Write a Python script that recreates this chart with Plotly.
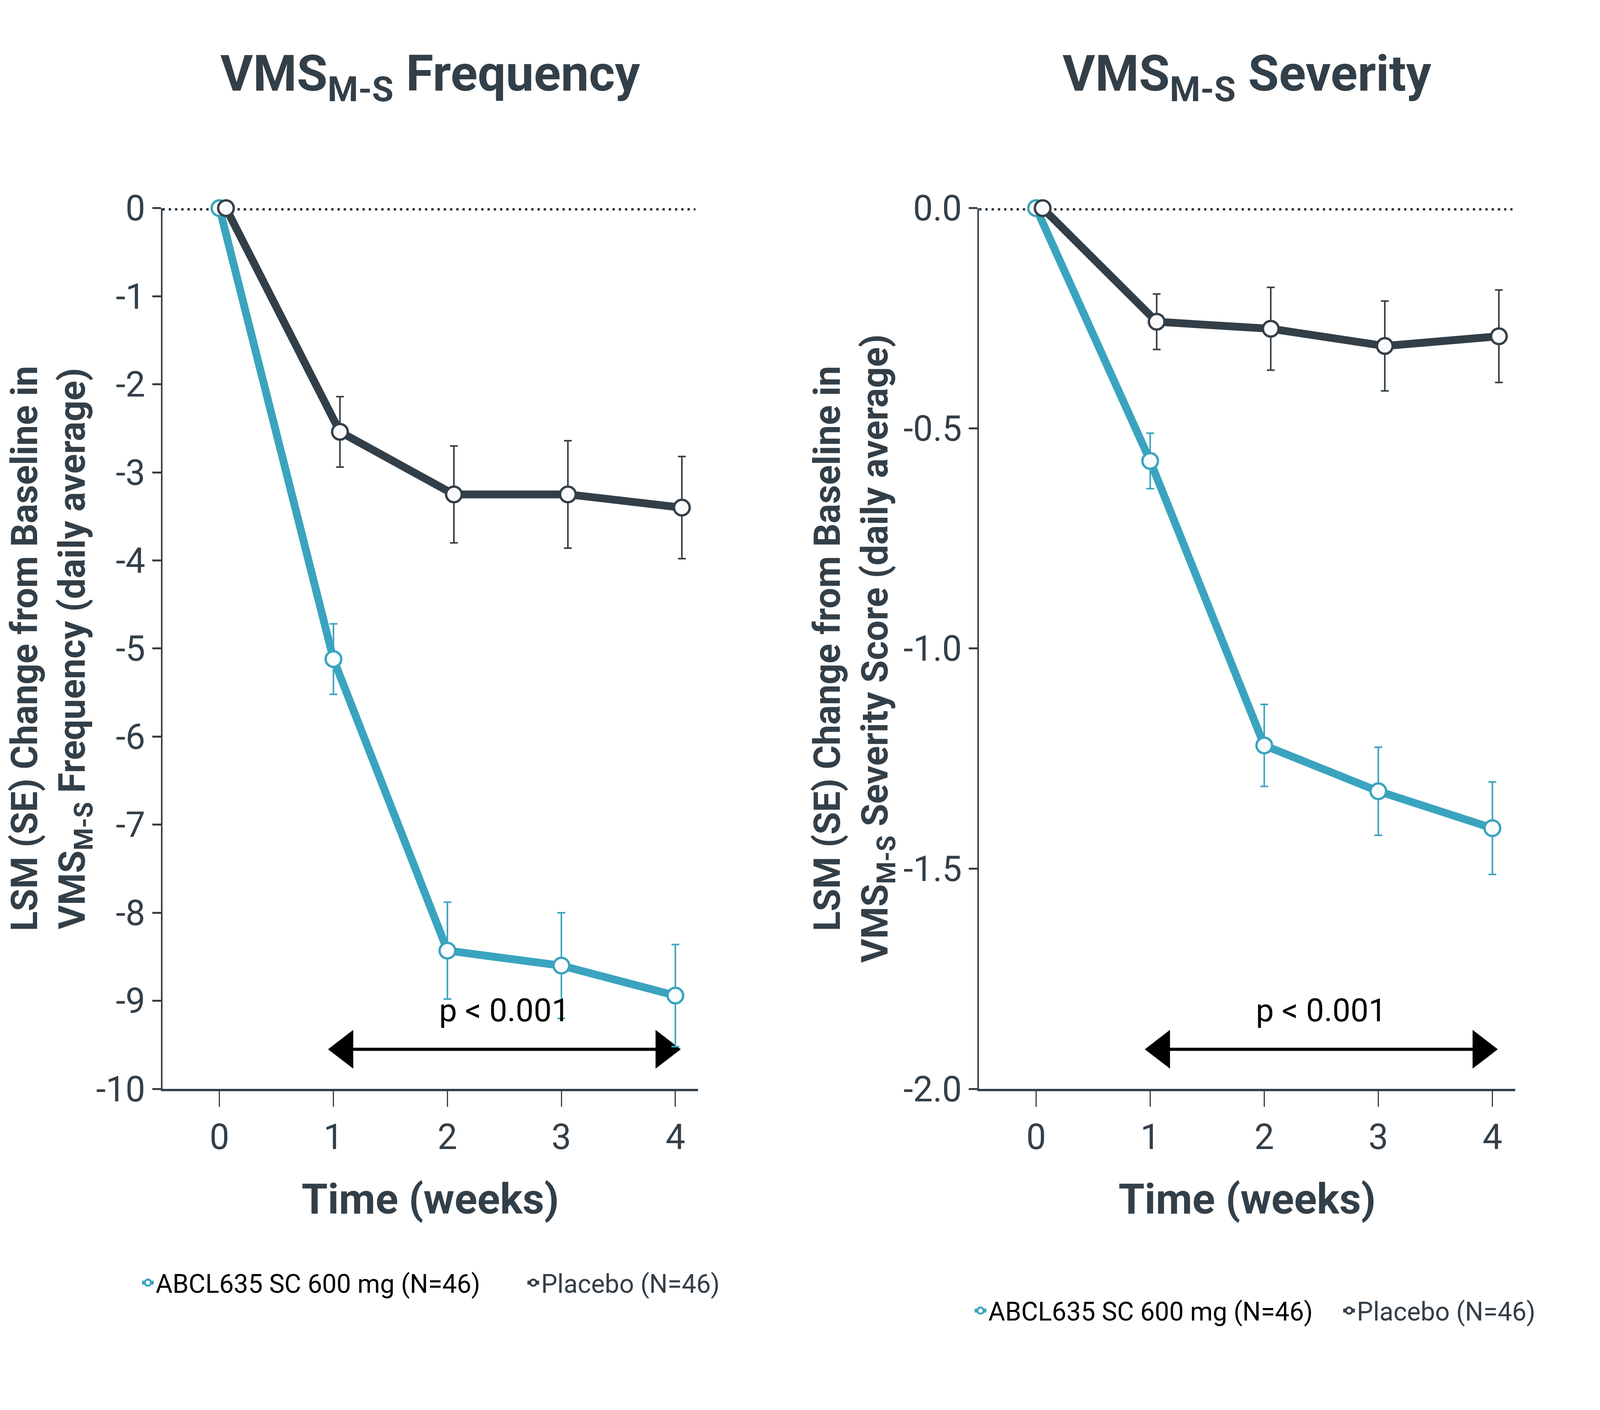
import plotly.graph_objects as go

# ---- data ----
weeks = [0, 1, 2, 3, 4]

freq_abcl = [0, -5.12, -8.43, -8.60, -8.94]
freq_abcl_se = [None, 0.40, 0.55, 0.60, 0.58]
freq_pbo = [0, -2.54, -3.25, -3.25, -3.40]
freq_pbo_se = [None, 0.40, 0.55, 0.61, 0.58]

sev_abcl = [0, -0.574, -1.220, -1.324, -1.408]
sev_abcl_se = [None, 0.063, 0.093, 0.100, 0.105]
sev_pbo = [0, -0.258, -0.274, -0.313, -0.291]
sev_pbo_se = [None, 0.063, 0.094, 0.102, 0.105]

freq_ticks = [0, -1, -2, -3, -4, -5, -6, -7, -8, -9, -10]
sev_ticks = [0.0, -0.5, -1.0, -1.5, -2.0]

arrow_x = [1.10, 3.90]          # centres of the two arrow heads (weeks)
freq_arrow_y = -9.55
sev_arrow_y = -1.91
p_label = "p < 0.001"

abcl_name = "ABCL635 SC 600 mg (N=46)"
pbo_name = "Placebo (N=46)"

# ---- styling ----
TEAL = "#3AA4BF"
DARK = "#333F48"
FONT = "Roboto"
PBO_SHIFT = 0.057   # placebo points nudged right so the markers don't hide each other

# layout measured on the 7551 x 3609 reference, kept as fractions of the page
RW, RH = 7551, 3609
dom_x1 = [755 / RW, 3293 / RW]
dom_x2 = [4624 / RW, 7164 / RW]
dom_y = [1 - 2822 / RH, 1 - 490 / RH]
LEG_PAD = 0.013     # legend box edge to start of its text


def series(x, y, se, color, name, xa, ya, legend):
    return go.Scatter(
        x=x, y=y, name=name, mode="lines+markers",
        xaxis=xa, yaxis=ya, legend=legend,
        line=dict(color=color, width=20),
        marker=dict(size=40, color="#FBFBFD", line=dict(color=color, width=6)),
        error_y=dict(type="data", array=se, color=color, thickness=4, width=10),
        cliponaxis=False,
    )


def p_arrow(xa, ya, y):
    return go.Scatter(
        x=arrow_x, y=[y, y], xaxis=xa, yaxis=ya, mode="lines+markers",
        line=dict(color="black", width=8),
        marker=dict(symbol=["triangle-left", "triangle-right"], size=86, color="black"),
        showlegend=False, hoverinfo="skip", cliponaxis=False,
    )


def legend_box(text_x, text_y):
    return dict(orientation="h", x=text_x - LEG_PAD, y=text_y, xanchor="left", yanchor="middle",
                font=dict(family=FONT, size=66, color=DARK), bgcolor="rgba(0,0,0,0)")


pbo_x = [w + PBO_SHIFT for w in weeks]
abcl_label = '<span style="color:black">' + abcl_name + "</span>"

fig = go.Figure()
fig.add_trace(p_arrow("x", "y", freq_arrow_y))
fig.add_trace(p_arrow("x2", "y2", sev_arrow_y))
fig.add_trace(series(weeks, freq_abcl, freq_abcl_se, TEAL, abcl_label, "x", "y", "legend"))
fig.add_trace(series(pbo_x, freq_pbo, freq_pbo_se, DARK, pbo_name, "x", "y", "legend2"))
fig.add_trace(series(weeks, sev_abcl, sev_abcl_se, TEAL, abcl_label, "x2", "y2", "legend3"))
fig.add_trace(series(pbo_x, sev_pbo, sev_pbo_se, DARK, pbo_name, "x2", "y2", "legend4"))

xcommon = dict(
    range=[-0.5, 4.2], tickvals=weeks, ticks="outside", ticklen=40, tickwidth=3,
    tickcolor=DARK, showline=True, linewidth=6, linecolor=DARK,
    showgrid=False, zeroline=False,
    tickfont=dict(family=FONT, size=90, color=DARK),
    title=dict(text="Time (weeks)", font=dict(family=FONT, size=108, color=DARK, weight="bold"),
               standoff=70),
)
ycommon = dict(
    ticks="outside", ticklen=22, tickwidth=5, tickcolor=DARK,
    showline=True, linewidth=4, linecolor=DARK, showgrid=False, zeroline=False,
    tickfont=dict(family=FONT, size=90, color=DARK),
)
ytitle_font = dict(family=FONT, size=94, color=DARK, weight="bold")

fig.update_layout(
    margin=dict(l=0, r=0, t=0, b=0),
    paper_bgcolor="white", plot_bgcolor="white",
    font=dict(family=FONT, color=DARK),
    hovermode=False,
    xaxis=dict(domain=dom_x1, anchor="y", **xcommon),
    xaxis2=dict(domain=dom_x2, anchor="y2", **xcommon),
    yaxis=dict(
        domain=dom_y, anchor="x", range=[-10, 0],
        tickvals=freq_ticks, ticktext=[str(v) for v in freq_ticks],
        title=dict(text="LSM (SE) Change from Baseline in<br>VMS<sub>M-S</sub> Frequency (daily average)",
                   font=ytitle_font, standoff=10),
        **ycommon,
    ),
    yaxis2=dict(
        domain=dom_y, anchor="x2", range=[-2, 0],
        tickvals=sev_ticks, ticktext=[f"{v:.1f}" for v in sev_ticks],
        title=dict(text="LSM (SE) Change from Baseline in<br>VMS<sub>M-S</sub> Severity Score (daily average)",
                   font=ytitle_font, standoff=10),
        **ycommon,
    ),
    legend=legend_box(747 / RW, 1 - 3335 / RH),
    legend2=legend_box(2573 / RW, 1 - 3335 / RH),
    legend3=legend_box(4692 / RW, 1 - 3409 / RH),
    legend4=legend_box(6438 / RW, 1 - 3409 / RH),
    showlegend=True,
)

# dotted zero reference line on each panel
for xa, ya in (("x", "y"), ("x2", "y2")):
    fig.add_shape(type="line", xref=f"{xa} domain", yref=ya, x0=0, x1=0.995, y0=0, y1=0,
                  line=dict(color="#26323B", width=12, dash="6px,10px"), layer="below")

# panel titles and p-value labels
for xa, ya, word, ay in (("x", "y", "Frequency", freq_arrow_y), ("x2", "y2", "Severity", sev_arrow_y)):
    fig.add_annotation(xref=f"{xa} domain", yref="paper", x=0.5, y=1 - 143 / RH,
                       xanchor="center", yanchor="middle", showarrow=False,
                       text=f"VMS<sub>M-S</sub> {word}",
                       font=dict(family=FONT, size=128, color=DARK, weight="bold"))
    fig.add_annotation(xref=xa, yref=ya, x=sum(arrow_x) / 2, y=ay, yshift=100,
                       xanchor="center", yanchor="middle", showarrow=False, text=p_label,
                       font=dict(family=FONT, size=82, color="black"))

fig.write_html("out.html")
